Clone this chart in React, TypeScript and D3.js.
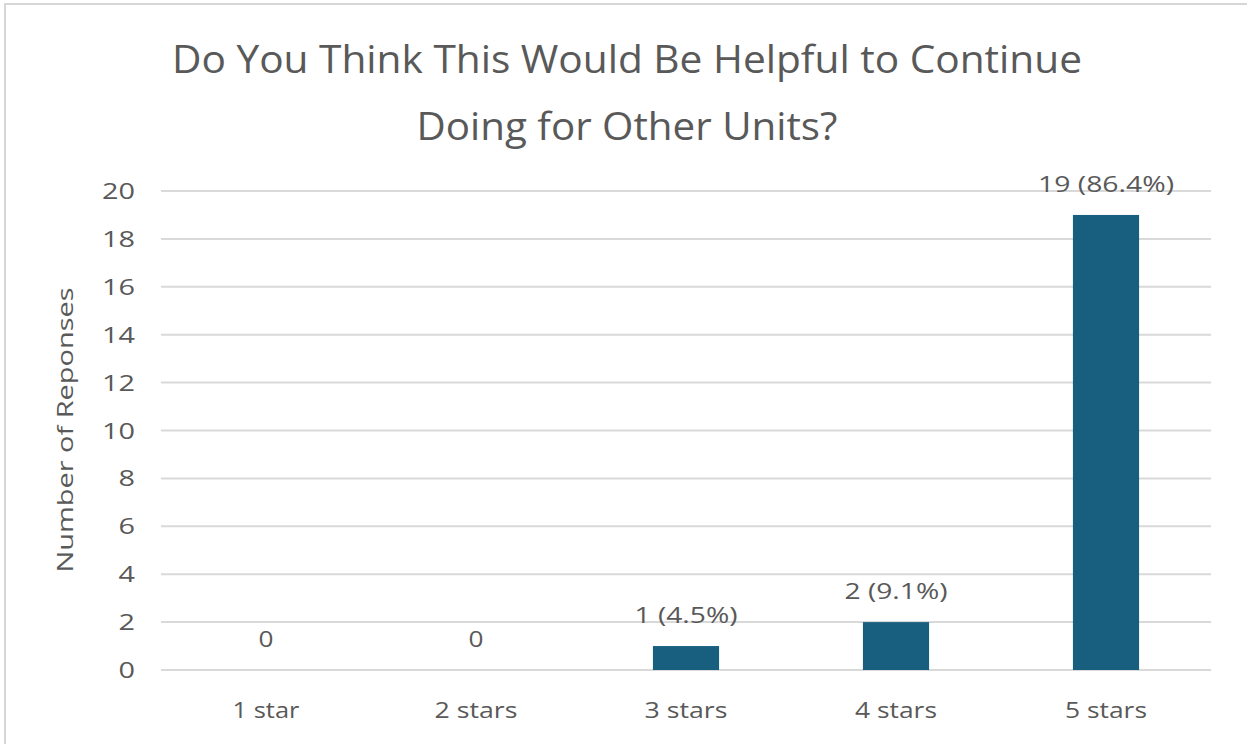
import React from "react";
import * as d3 from "d3";

const categories = ["1 star", "2 stars", "3 stars", "4 stars", "5 stars"];
const values = [0, 0, 1, 2, 19];
const labels = ["0", "0", "1 (4.5%)", "2 (9.1%)", "19 (86.4%)"];
const yTicks = [0, 2, 4, 6, 8, 10, 12, 14, 16, 18, 20];
const titleLines = ["Do You Think This Would Be Helpful to Continue", "Doing for Other Units?"];
const yAxisTitle = "Number of Reponses";

const W = 1247, H = 744;
const FONT = "'Open Sans', sans-serif";
const TXT = "#595959";

// measured rendered widths in the reference (layout only)
const titleWidths = [910, 421];
const catLabelWidths = [67, 83, 83, 82, 82];
const valLabelWidths = [15, 15, 103, 103, 136];

export default function App() {
  const x = d3.scaleBand<string>().domain(categories).range([161, 1211]).paddingInner(0.685).paddingOuter(0.3425);
  const xc = d3.scaleBand<string>().domain(categories).range([161, 1211]);
  const y = d3.scaleLinear().domain([0, 20]).range([670, 191]);
  const cx = (c: string) => (xc(c) as number) + xc.bandwidth() / 2;
  return (
    <svg width={W} height={H} style={{ position: "absolute", left: 0, top: 0, background: "#fff" }} fontFamily={FONT}>
      <rect x={5} y={4} width={W + 10} height={H + 10} fill="#fff" stroke="#d6d6d6" strokeWidth={2} />
      {titleLines.map((t, i) => (
        <text key={i} x={627} y={73 + i * 67} textAnchor="middle" fontSize={39} fill={TXT}
          textLength={titleWidths[i]} lengthAdjust="spacingAndGlyphs">{t}</text>
      ))}
      {yTicks.map((t) => (
        <g key={t}>
          <line x1={161} x2={1211} y1={y(t)} y2={y(t)} stroke="#d9d9d9" strokeWidth={2} />
          <text x={135} y={y(t) + 8} textAnchor="end" fontSize={22} fill={TXT}
            textLength={String(t).length * 16.5} lengthAdjust="spacingAndGlyphs">{t}</text>
        </g>
      ))}
      <text transform={`translate(73,430) rotate(-90)`} textAnchor="middle" fontSize={21} fill={TXT}
        textLength={285} lengthAdjust="spacingAndGlyphs">{yAxisTitle}</text>
      {categories.map((c, i) => (
        <g key={c}>
          {values[i] > 0 && (
            <rect x={x(c)} y={y(values[i])} width={x.bandwidth()} height={y(0) - y(values[i])} fill="#185e7f" />
          )}
          <text x={cx(c)} y={y(values[i]) - 23} textAnchor="middle" fontSize={21} fill={TXT}
            textLength={valLabelWidths[i]} lengthAdjust="spacingAndGlyphs">{labels[i]}</text>
          <text x={cx(c)} y={718} textAnchor="middle" fontSize={21} fill={TXT}
            textLength={catLabelWidths[i]} lengthAdjust="spacingAndGlyphs">{c}</text>
        </g>
      ))}
    </svg>
  );
}
